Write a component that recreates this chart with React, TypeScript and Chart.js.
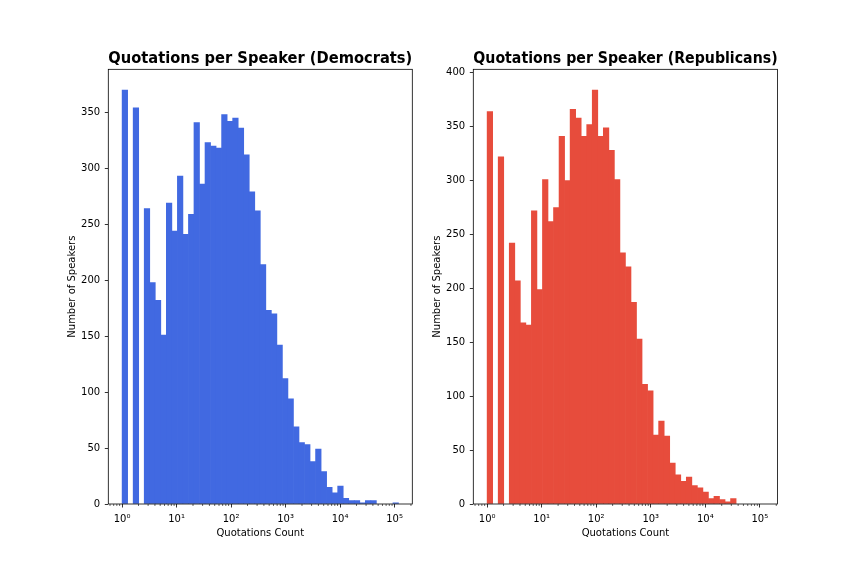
import React, { useEffect, useRef } from "react";
import { Chart, registerables } from "chart.js";

Chart.register(...registerables);

const FONT = "'DejaVu Sans', 'Liberation Sans', sans-serif";

// Histogram bins: 50 log-spaced bins from 1 to the largest quotation count
const BIN_COUNT = 50;
const BIN_MIN_QUOTATIONS = 1;
const BIN_MAX_QUOTATIONS = 118000;

// Number of speakers per bin
const DEM_COUNTS = [
  370, 0, 354, 0, 264, 198, 182, 151, 269, 244,
  293, 241, 259, 341, 286, 323, 320, 318, 348, 342,
  345, 336, 312, 279, 262, 214, 173, 170, 142, 112,
  94, 69, 55, 53, 38, 49, 29, 15, 10, 16,
  5, 3, 3, 1, 3, 3, 0, 0, 0, 1,
];
const REP_COUNTS = [
  364, 0, 322, 0, 242, 207, 168, 166, 272, 199,
  301, 262, 275, 341, 300, 366, 358, 341, 352, 384,
  341, 349, 328, 301, 233, 220, 187, 153, 111, 105,
  64, 77, 63, 38, 27, 21, 25, 17, 15, 11,
  5, 7, 4, 2, 5, 0, 0, 0, 0, 0,
];

const X_TICK_VALUES = [1, 10, 100, 1000, 10000, 100000];
const X_TICK_LABELS = ["10⁰", "10¹", "10²", "10³", "10⁴", "10⁵"];
const DEM_Y_TICKS = [0, 50, 100, 150, 200, 250, 300, 350];
const REP_Y_TICKS = [0, 50, 100, 150, 200, 250, 300, 350, 400];

const TITLES = [
  "Quotations per Speaker (Democrats)",
  "Quotations per Speaker (Republicans)",
];
const X_TITLE = "Quotations Count";
const Y_TITLE = "Number of Speakers";
const COLORS = ["#4169e1", "#e74c3c"];

const H = 576;

function binCenters(): number[] {
  const lo = Math.log10(BIN_MIN_QUOTATIONS);
  const hi = Math.log10(BIN_MAX_QUOTATIONS);
  const step = (hi - lo) / BIN_COUNT;
  const out: number[] = [];
  for (let i = 0; i < BIN_COUNT; i++) out.push(Math.pow(10, lo + (i + 0.5) * step));
  return out;
}

const framePlugin = {
  id: "frameAndMinorTicks",
  afterDraw(chart: any) {
    const { ctx, chartArea } = chart;
    const xs = chart.scales.x;
    ctx.save();
    // minor ticks on the log axis
    ctx.strokeStyle = "#000";
    ctx.lineWidth = 0.6;
    const lo = Math.floor(Math.log10(xs.min));
    const hi = Math.ceil(Math.log10(xs.max));
    ctx.beginPath();
    for (let k = lo; k <= hi; k++) {
      for (let m = 2; m <= 9; m++) {
        const v = m * Math.pow(10, k);
        if (v < xs.min || v > xs.max) continue;
        const px = xs.getPixelForValue(v);
        ctx.moveTo(px, chartArea.bottom);
        ctx.lineTo(px, chartArea.bottom + 2);
      }
    }
    ctx.stroke();
    // spines
    ctx.lineWidth = 0.8;
    ctx.strokeRect(chartArea.left, chartArea.top, chartArea.right - chartArea.left, chartArea.bottom - chartArea.top);
    ctx.restore();
  },
};

type Panel = {
  counts: number[];
  yTicks: number[];
  color: string;
  title: string;
  canvasWidth: number;
  areaLeft: number;
  areaRight: number;
  yTitlePad: number;
};

function makeChart(canvas: HTMLCanvasElement, p: Panel) {
  const centers = binCenters();
  const data = p.counts
    .map((c, i) => ({ x: centers[i], y: c }))
    .filter((d) => d.y > 0);
  const yMax = Math.max(...p.counts) * 1.05;
  const logLo = Math.log10(BIN_MIN_QUOTATIONS);
  const logHi = Math.log10(BIN_MAX_QUOTATIONS);
  const margin = (logHi - logLo) * 0.05;

  return new Chart(canvas, {
    type: "bar",
    data: {
      datasets: [
        {
          data,
          backgroundColor: p.color,
          borderWidth: 0,
          barPercentage: 1,
          categoryPercentage: 1,
        } as any,
      ],
    },
    options: {
      animation: false,
      responsive: false,
      devicePixelRatio: 1,
      layout: { padding: { left: 0, top: 0, bottom: 0, right: p.canvasWidth - p.areaRight } },
      plugins: {
        legend: { display: false },
        tooltip: { enabled: false },
        title: {
          display: true,
          text: p.title,
          fullSize: false,
          color: "#000",
          font: { family: FONT, size: 15.35, weight: "bold", lineHeight: 1.2 },
          padding: { top: 50.1, bottom: 0.8 },
        },
      },
      scales: {
        x: {
          type: "logarithmic",
          min: Math.pow(10, logLo - margin),
          max: Math.pow(10, logHi + margin),
          offset: false,
          afterBuildTicks: (scale: any) => {
            scale.ticks = X_TICK_VALUES.map((v) => ({ value: v }));
          },
          afterFit: (scale: any) => {
            scale.height = H - 504;
          },
          ticks: {
            autoSkip: false,
            maxRotation: 0,
            color: "#000",
            padding: 5.7,
            font: { family: FONT, size: 10 },
            callback: (v: any) => {
              const i = X_TICK_VALUES.indexOf(Number(v));
              return i >= 0 ? X_TICK_LABELS[i] : "";
            },
          },
          grid: {
            display: true,
            offset: false,
            drawOnChartArea: false,
            drawTicks: true,
            tickLength: 3.5,
            tickWidth: 0.8,
            tickColor: "#000",
          },
          border: { display: false },
          title: {
            display: true,
            text: X_TITLE,
            color: "#000",
            font: { family: FONT, size: 10 },
            padding: { top: 0, bottom: 36.3 },
          },
        },
        y: {
          type: "linear",
          min: 0,
          max: yMax,
          afterBuildTicks: (scale: any) => {
            scale.ticks = p.yTicks.map((v) => ({ value: v }));
          },
          afterFit: (scale: any) => {
            scale.width = p.areaLeft;
          },
          ticks: {
            color: "#000",
            padding: 4.7,
            font: { family: FONT, size: 10 },
            callback: (v: any) => String(v),
          },
          grid: {
            display: true,
            drawOnChartArea: false,
            drawTicks: true,
            tickLength: 3.5,
            tickWidth: 0.8,
            tickColor: "#000",
          },
          border: { display: false },
          title: {
            display: true,
            text: Y_TITLE,
            color: "#000",
            font: { family: FONT, size: 10 },
            padding: { top: p.yTitlePad, bottom: 0 },
          },
        },
      },
    } as any,
    plugins: [framePlugin],
  });
}

export default function App() {
  const leftRef = useRef<HTMLCanvasElement>(null);
  const rightRef = useRef<HTMLCanvasElement>(null);

  useEffect(() => {
    const charts: Chart[] = [];
    if (leftRef.current) {
      charts.push(
        makeChart(leftRef.current, {
          counts: DEM_COUNTS,
          yTicks: DEM_Y_TICKS,
          color: COLORS[0],
          title: TITLES[0],
          canvasWidth: 420,
          areaLeft: 108.3,
          areaRight: 412.3,
          yTitlePad: 66.4,
        })
      );
    }
    if (rightRef.current) {
      charts.push(
        makeChart(rightRef.current, {
          counts: REP_COUNTS,
          yTicks: REP_Y_TICKS,
          color: COLORS[1],
          title: TITLES[1],
          canvasWidth: 444,
          areaLeft: 53.3,
          areaRight: 357.6,
          yTitlePad: 11.4,
        })
      );
    }
    return () => charts.forEach((c) => c.destroy());
  }, []);

  return (
    <div style={{ position: "fixed", left: 0, top: 0, width: 864, height: 576, background: "#fff" }}>
      <canvas ref={leftRef} width={420} height={576} style={{ position: "absolute", left: 0, top: 0 }} />
      <canvas ref={rightRef} width={444} height={576} style={{ position: "absolute", left: 420, top: 0 }} />
    </div>
  );
}
